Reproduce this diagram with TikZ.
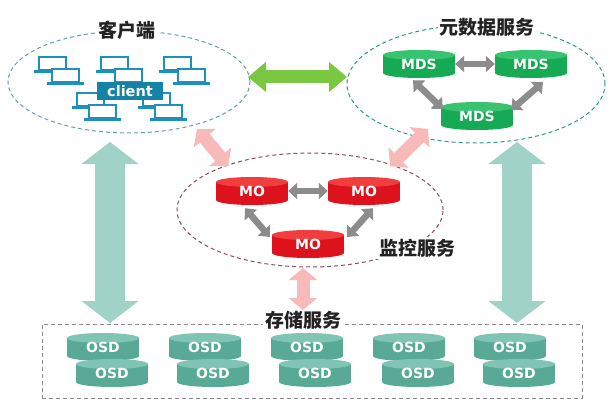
\documentclass[tikz,border=0pt]{standalone}
\usepackage{fontspec}
\newfontfamily\cjk{Noto Sans CJK SC}
\newfontfamily\lat{DejaVu Sans}
\usetikzlibrary{arrows.meta,shapes.geometric,calc}
\definecolor{lapc}{RGB}{30,144,190}
\definecolor{clientc}{RGB}{22,130,165}
\definecolor{cliente}{RGB}{100,160,170}
\definecolor{mdsbody}{RGB}{22,170,85}
\definecolor{mdstop}{RGB}{55,195,112}
\definecolor{mdse}{RGB}{40,160,125}
\definecolor{mobody}{RGB}{222,18,28}
\definecolor{motop}{RGB}{240,62,62}
\definecolor{moe}{RGB}{140,80,90}
\definecolor{osdbody}{RGB}{88,170,150}
\definecolor{osdtop}{RGB}{128,196,180}
\definecolor{storc}{RGB}{140,140,140}
\definecolor{grayarr}{RGB}{140,140,140}
\definecolor{pinkarr}{RGB}{248,185,185}
\definecolor{tealarr}{RGB}{160,210,200}
\definecolor{greenarr}{RGB}{122,200,65}
\definecolor{titlec}{RGB}{34,34,34}
\newcommand\dbcyl[6]{%
  \fill[#4] (#2,#3+9) ellipse[x radius=36, y radius=5];
  \fill[#4] (#2-36,#3-9) rectangle (#2+36,#3+9);
  \fill[#5] (#2,#3-9) ellipse[x radius=36, y radius=5];
  \node[cylnode] (#1) at (#2,#3) {\raisebox{-3pt}{#6}};
}
\newcommand\laptop[2]{%
  \filldraw[fill=white, draw=lapc, line width=2.2pt] (#1,#2) rectangle (#1+27,#2+13);
  \draw[lapc, line width=3pt] (#1-5,#2+15) -- (#1+32,#2+15);
}
\begin{document}
\begin{tikzpicture}[x=1pt,y=-1pt,
  title/.style={fill=white, inner sep=2pt, text=titlec, font=\cjk\bfseries\fontsize{19}{20}\selectfont},
  cylnode/.style={minimum width=72pt, minimum height=28pt, inner sep=0pt, text=white, font=\lat\bfseries\fontsize{14}{14}\selectfont},
  region/.style={ellipse, dash pattern=on 4pt off 3pt, line width=1pt},
  tealarrow/.style={draw=tealarr, line width=30pt, {Triangle[length=22pt,width=56pt]}-{Triangle[length=22pt,width=56pt]}},
  greenarrow/.style={draw=greenarr, line width=13pt, {Triangle[length=18pt,width=29pt]}-{Triangle[length=18pt,width=29pt]}},
  pinkarrow/.style={draw=pinkarr, line width=13pt, {Triangle[length=12pt,width=28pt]}-{Triangle[length=12pt,width=28pt]}},
  grayarrow/.style={draw=grayarr, line width=6.5pt, {Triangle[length=9pt,width=16pt]}-{Triangle[length=9pt,width=16pt]}},
]
\useasboundingbox[fill=white] (0,0) rectangle (614,404);

% regions
\node[region, draw=cliente, minimum width=242pt, minimum height=102pt] (clientE) at (129,82) {};
\node[region, draw=mdse, minimum width=258pt, minimum height=118pt] (mdsE) at (476,84) {};
\node[region, draw=moe, minimum width=266pt, minimum height=114pt] (moE) at (310,210) {};
\node[draw=storc, dash pattern=on 4pt off 3pt, line width=0.9pt, minimum width=540pt, minimum height=74pt] (storage) at (312,361) {};

% titles
\node[title] (tclient) at (127,30) {客户端};
\node[title] (tmds) at (487,27) {元数据服务};
\node[title] (tmo) at (417,248) {监控服务};
\node[title] (tstor) at (303,320) {存储服务};

% laptops
\laptop{39}{57}\laptop{52}{69}
\laptop{101}{57}\laptop{115}{69}
\laptop{164}{57}\laptop{178}{69}
\laptop{77}{93}\laptop{89}{105}
\laptop{143}{93}\laptop{155}{105}
\node[fill=clientc, text=white, minimum width=66pt, minimum height=18pt, inner sep=0pt, font=\lat\bfseries\fontsize{14.5}{15}\selectfont] (client) at (130,91) {client};

% arrow end points
\coordinate (tl1) at (110,142); \coordinate (tl2) at (110,323);
\coordinate (tr1) at (517,142); \coordinate (tr2) at (517,323);
\coordinate (g1) at (248,77); \coordinate (g2) at (347,77);
\coordinate (p1a) at (197,129); \coordinate (p1b) at (228,166);
\coordinate (p2a) at (428,129); \coordinate (p2b) at (390,166);
\coordinate (p3a) at (303,268); \coordinate (p3b) at (303,310);

\draw[tealarrow] (tl1) -- (tl2);
\draw[tealarrow] (tr1) -- (tr2);
\draw[greenarrow] (g1) -- (g2);
\draw[pinkarrow] (p1a) -- (p1b);
\draw[pinkarrow] (p2a) -- (p2b);
\draw[pinkarrow] (p3a) -- (p3b);

% MDS
\dbcyl{mds1}{419}{64}{mdsbody}{mdstop}{MDS}
\dbcyl{mds2}{531}{64}{mdsbody}{mdstop}{MDS}
\dbcyl{mds3}{477}{116}{mdsbody}{mdstop}{MDS}
\draw[grayarrow] (mds1.east) -- (mds2.west);
\draw[grayarrow] ($(mds1.south)+(-6,2)$) -- ($(mds3.west)+(2,-7)$);
\draw[grayarrow] ($(mds2.south)+(12,4)$) -- ($(mds3.east)+(-2,-6)$);

% MO
\dbcyl{mo1}{252}{191}{mobody}{motop}{MO}
\dbcyl{mo2}{364}{191}{mobody}{motop}{MO}
\dbcyl{mo3}{308}{244}{mobody}{motop}{MO}
\draw[grayarrow] (mo1.east) -- (mo2.west);
\draw[grayarrow] ($(mo1.south)+(-7,3)$) -- ($(mo3.west)+(-2,-7)$);
\draw[grayarrow] ($(mo2.south)+(9,3)$) -- ($(mo3.east)+(3,-7)$);

% OSD
\dbcyl{osd1}{103}{347}{osdbody}{osdtop}{OSD}
\dbcyl{osd2}{112}{373}{osdbody}{osdtop}{OSD}
\dbcyl{osd3}{205}{347}{osdbody}{osdtop}{OSD}
\dbcyl{osd4}{213}{373}{osdbody}{osdtop}{OSD}
\dbcyl{osd5}{307}{347}{osdbody}{osdtop}{OSD}
\dbcyl{osd6}{315}{373}{osdbody}{osdtop}{OSD}
\dbcyl{osd7}{409}{347}{osdbody}{osdtop}{OSD}
\dbcyl{osd8}{418}{373}{osdbody}{osdtop}{OSD}
\dbcyl{osd9}{510}{347}{osdbody}{osdtop}{OSD}
\dbcyl{osd10}{519}{373}{osdbody}{osdtop}{OSD}
\end{tikzpicture}
\end{document}
